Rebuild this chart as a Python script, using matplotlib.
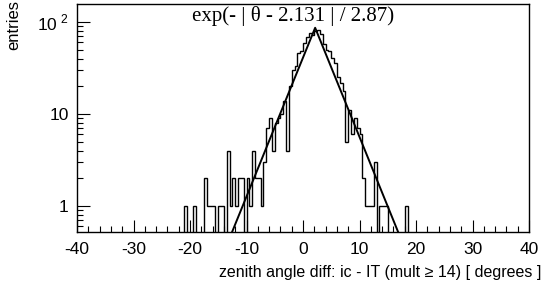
import numpy as np
import matplotlib
matplotlib.use("Agg")
import matplotlib.pyplot as plt
from matplotlib.ticker import FixedLocator, FixedFormatter, MultipleLocator

plt.rcParams['font.family'] = ['Liberation Sans', 'DejaVu Sans']
plt.rcParams['mathtext.fontset'] = 'custom'
plt.rcParams['mathtext.rm'] = 'Liberation Sans'
plt.rcParams['axes.unicode_minus'] = False

# histogram: 0.5 degree bins starting at -21
bin_start = -21.0
bin_width = 0.5
counts = [
    1, 0, 0, 1, 0, 0, 0, 2, 1, 1,        # -21.0 .. -16.5
    1, 0, 1, 1, 0, 4, 1, 2, 1, 2,        # -16.0 .. -11.5
    2, 0, 2, 1, 4, 2, 2, 1, 3, 7,        # -11.0 .. -6.5
    9, 4, 8, 9, 10, 14, 4, 20, 30, 33,   # -6.0 .. -1.5
    46, 48, 59, 68, 76, 72, 80, 82, 75, 58,  # -1.0 .. 3.5
    50, 48, 41, 36, 25, 22, 18, 5, 11, 6,    # 4.0 .. 8.5
    9, 7, 6, 2, 1, 1, 1, 3, 0, 1,        # 9.0 .. 13.5
    1, 1, 0, 0, 0, 0, 0, 0, 1,           # 14.0 .. 18.0
]

# fit parameters
fit_amp = 87.0
fit_mean = 2.131
fit_width = 2.87
fit_label = "exp(- | \u03b8 - 2.131 | / 2.87)"

x_ticks = [-40, -30, -20, -10, 0, 10, 20, 30, 40]
y_ticks = [1, 10, 100]
y_ticklabels = ["1", "10", "10$^{\\ 2}$"]

counts = np.array(counts, dtype=float)
edges = bin_start + bin_width * np.arange(len(counts) + 1)
# full range with empty bins outside
left_edges = np.arange(-40, bin_start, bin_width)
right_edges = np.arange(edges[-1] + bin_width, 40 + 1e-9, bin_width)
all_edges = np.concatenate([left_edges, edges, right_edges])
all_counts = np.concatenate([np.zeros(len(left_edges)), counts, np.zeros(len(right_edges))])
draw_counts = np.where(all_counts > 0, all_counts, 1e-3)

fig = plt.figure(figsize=(5.5, 2.9), dpi=100)
ax = fig.add_axes([0.14, 0.2, 0.822, 0.786])

ax.stairs(draw_counts, all_edges, baseline=None, color='black', linewidth=1.0)

xf = np.linspace(-40, 40, 2000)
ax.plot(xf, fit_amp * np.exp(-np.abs(xf - fit_mean) / fit_width), color='black', linewidth=1.4)

ax.set_yscale('log')
ax.set_xlim(-40, 40)
ax.set_ylim(0.52, 157)

ax.xaxis.set_major_locator(FixedLocator(x_ticks))
ax.xaxis.set_minor_locator(MultipleLocator(2))
ax.yaxis.set_major_locator(FixedLocator(y_ticks))
ax.yaxis.set_major_formatter(FixedFormatter(y_ticklabels))
ax.yaxis.set_minor_locator(matplotlib.ticker.LogLocator(base=10, subs=np.arange(2, 10)))
ax.yaxis.set_minor_formatter(matplotlib.ticker.NullFormatter())

ax.tick_params(which='both', direction='in', top=False, right=False, width=0.8)
ax.tick_params(which='major', length=9, labelsize=12.5)
ax.tick_params(axis='x', which='major', pad=7)
ax.tick_params(axis='y', which='major', pad=6)
ax.tick_params(which='minor', length=4.5)
for s in ax.spines.values():
    s.set_linewidth(1.0)

ax.set_xlabel("zenith angle diff: ic - IT (mult \u2265 14) [ degrees ]", fontsize=11.5, ha='right')
ax.xaxis.set_label_coords(1.027, -0.145)
ax.set_ylabel("entries", fontsize=12, ha='right')
ax.yaxis.set_label_coords(-0.124, 1.018)

ax.text(0.478, 0.991, fit_label, transform=ax.transAxes, ha='center', va='top',
        fontsize=15, family='Liberation Serif')

fig.savefig("out.png", dpi=100)
